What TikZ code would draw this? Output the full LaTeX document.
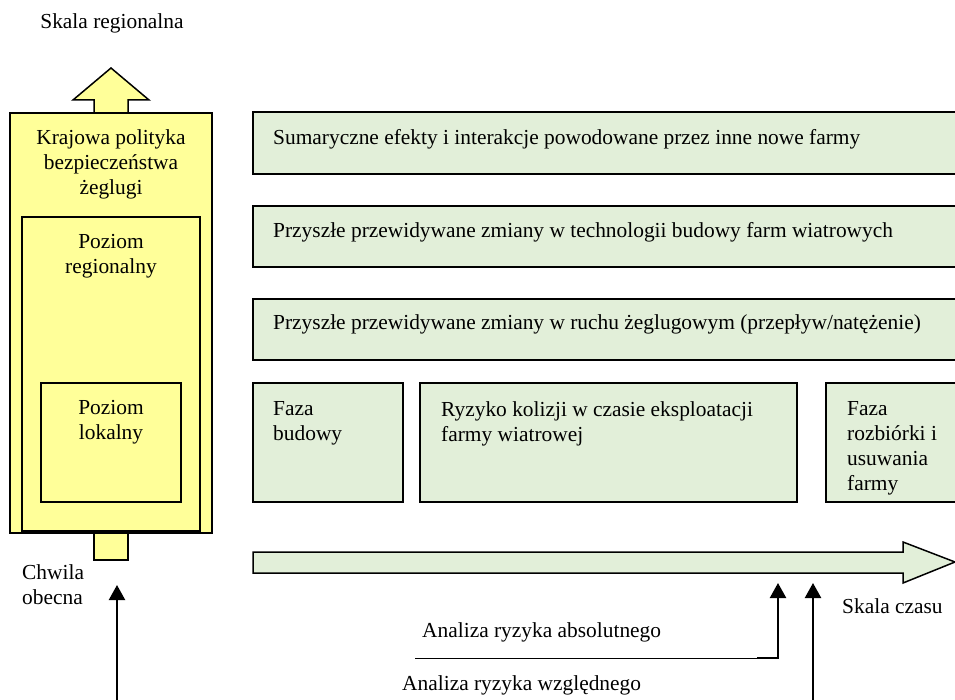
\documentclass[tikz,border=0pt]{standalone}
\usepackage{fontspec}
\setmainfont{Liberation Serif}
\usetikzlibrary{arrows.meta}
\definecolor{PolicyYellow}{HTML}{FFFF99}
\definecolor{PhaseGreen}{HTML}{E2EFD9}

\begin{document}
\begin{tikzpicture}[x=1pt, y=-1pt, font=\fontsize{21.4}{25}\selectfont,
    box/.style={draw=black, line width=1.5pt},
    lbl/.style={inner sep=0pt},
    riskarrow/.style={line width=2.2pt, -{Triangle[width=16pt,length=15pt]}}]
  \useasboundingbox (0,0) rectangle (955,700);
  \clip (0,0) rectangle (955,700);
  % Spatial scale: arrow up and stub below
  \draw[box, fill=PolicyYellow] (94,113) -- (94,100) -- (73,100) -- (111,68)
    -- (149,100) -- (128,100) -- (128,113);
  \draw[box, fill=PolicyYellow] (94,530) rectangle (128,560);
  \node[lbl, anchor=base] (regscale) at (112,29) {Skala regionalna};
  % Nested levels
  \draw[box, fill=PolicyYellow] (10,113) rectangle (212,533);
  \node[lbl, anchor=north, align=center] (national) at (111,129)
    {Krajowa polityka\\bezpieczeństwa\\żeglugi};
  \draw[box, fill=PolicyYellow] (22,217) rectangle (200,531);
  \node[lbl, anchor=north, align=center] (regional) at (111,234) {Poziom\\regionalny};
  \draw[box, fill=PolicyYellow] (41,383) rectangle (181,502);
  \node[lbl, anchor=north, align=center] (local) at (111,400) {Poziom\\lokalny};
  \node[lbl, anchor=north west, align=left] (now) at (22,564) {Chwila\\obecna};
  % Background influences
  \draw[box, fill=PhaseGreen] (253,112) rectangle (962,174);
  \node[lbl, anchor=base west] (cumul) at (273,145)
    {Sumaryczne efekty i interakcje powodowane przez inne nowe farmy};
  \draw[box, fill=PhaseGreen] (253,206) rectangle (962,267);
  \node[lbl, anchor=base west] (techn) at (273,238)
    {Przyszłe przewidywane zmiany w technologii budowy farm wiatrowych};
  \draw[box, fill=PhaseGreen] (253,299) rectangle (962,360);
  \node[lbl, anchor=base west] (traffic) at (273,330)
    {Przyszłe przewidywane zmiany w ruchu żeglugowym (przepływ/natężenie)};
  % Project phases
  \draw[box, fill=PhaseGreen] (253,383) rectangle (403,502);
  \node[lbl, anchor=north west, align=left] (build) at (273,401) {Faza\\budowy};
  \draw[box, fill=PhaseGreen] (420,383) rectangle (797,502);
  \node[lbl, anchor=north west, align=left] (operate) at (441,401)
    {Ryzyko kolizji w czasie eksploatacji\\farmy wiatrowej};
  \draw[box, fill=PhaseGreen] (826,383) rectangle (962,502);
  \node[lbl, anchor=north west, align=left] (remove) at (847,401)
    {Faza\\rozbiórki i\\usuwania\\farmy};
  % Time scale
  \draw[box, fill=PhaseGreen] (253,552) -- (903,552) -- (903,542) -- (955,562)
    -- (903,583) -- (903,573) -- (253,573) -- cycle;
  \node[lbl, anchor=base west] (timescale) at (842,613) {Skala czasu};
  % Risk analyses
  \coordinate (nowtip) at (117,585);
  \coordinate (abstip) at (778,583);
  \coordinate (reltip) at (813,583);
  \coordinate (absstart) at (415,658);
  \coordinate (absbend) at (757,658);
  \node[lbl, anchor=base west] (absolute) at (422,637) {Analiza ryzyka absolutnego};
  \node[lbl, anchor=base west] (relative) at (402,690) {Analiza ryzyka względnego};
  \draw[line width=0.8pt] (absstart) -- (absbend);
  \draw[riskarrow] (absbend) -| (abstip);
  \draw[riskarrow] (reltip |- 0,710) -- (reltip);
  \draw[riskarrow] (nowtip |- 0,710) -- (nowtip);
\end{tikzpicture}
\end{document}
